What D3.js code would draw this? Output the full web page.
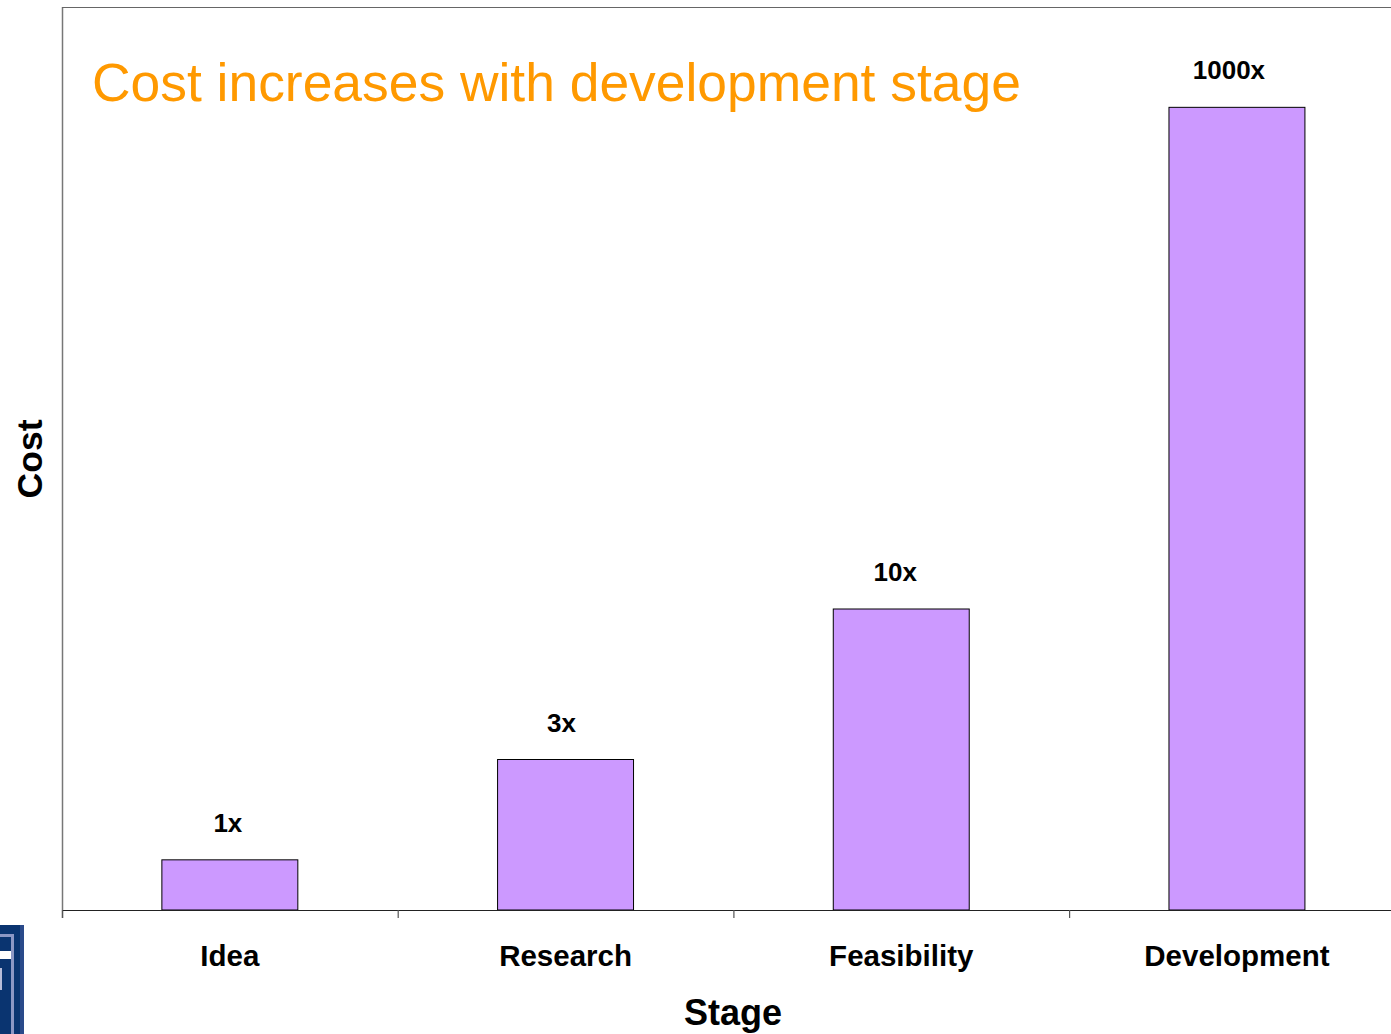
<!DOCTYPE html>
<html>
<head>
<meta charset="utf-8">
<script src="https://cdn.jsdelivr.net/npm/d3@7"></script>
<style>
  html, body { margin: 0; padding: 0; background: #fff; }
  svg { display: block; }
  text { font-family: "Liberation Sans", Arial, sans-serif; }
</style>
</head>
<body>
<svg id="chart" width="1391" height="1034"></svg>
<script>
// Stages and their relative cost multipliers
const stages = ["Idea", "Research", "Feasibility", "Development"];
const costs = [1, 3, 10, 1000];
const costLabels = ["1x", "3x", "10x", "1000x"];
// Cost multipliers and the bar height (in steps) each one is shown at;
// the axis is compressed so the largest multiplier stays on the page.
const costBreaks = [0, 1, 3, 10, 1000];
const stepBreaks = [0, 1, 3, 6, 16];
const stepMax = 18;

const W = 1391, H = 1034;
const margin = { left: 62, top: 7, bottom: 124 };
const baseY = H - margin.bottom;          // 910
const plotRight = margin.left + 4 * 335.7;

const svg = d3.select("#chart");

const x = d3.scaleBand()
  .domain(stages)
  .range([margin.left, plotRight])
  .paddingInner(0.595)
  .paddingOuter(0.2975);

const stepScale = d3.scaleLinear()
  .domain([0, stepMax])
  .range([baseY, margin.top]);

const y = d3.scaleLinear()
  .domain(costBreaks)
  .range(stepBreaks.map(s => stepScale(s)));

// Plot frame: left and top edges
svg.append("line")
  .attr("x1", margin.left + 0.5).attr("x2", margin.left + 0.5)
  .attr("y1", margin.top).attr("y2", baseY + 8)
  .attr("stroke", "#777").attr("stroke-width", 1.5);
svg.append("line")
  .attr("x1", margin.left).attr("x2", W)
  .attr("y1", margin.top + 0.5).attr("y2", margin.top + 0.5)
  .attr("stroke", "#666").attr("stroke-width", 1.2);

// Bars
svg.append("g").selectAll("rect")
  .data(stages)
  .join("rect")
  .attr("x", d => x(d))
  .attr("width", x.bandwidth())
  .attr("y", (d, i) => y(costs[i]))
  .attr("height", (d, i) => baseY - y(costs[i]))
  .attr("fill", "#CC99FF")
  .attr("stroke", "#000")
  .attr("stroke-width", 1);

// Category axis
const xAxis = d3.axisBottom(x).tickSize(0).tickFormat("");
const gx = svg.append("g")
  .attr("transform", `translate(0,${baseY})`)
  .call(xAxis);
gx.select(".domain").remove();
gx.append("line")
  .attr("x1", margin.left).attr("x2", W)
  .attr("y1", 0.5).attr("y2", 0.5)
  .attr("stroke", "#222").attr("stroke-width", 1.2);
// Dividing ticks between categories
const step = x.step();
gx.selectAll(".divtick")
  .data(d3.range(stages.length))
  .join("line")
  .attr("class", "divtick")
  .attr("x1", i => margin.left + i * step + 0.5)
  .attr("x2", i => margin.left + i * step + 0.5)
  .attr("y1", 0).attr("y2", 8)
  .attr("stroke", "#555").attr("stroke-width", 1.2);

// Category labels
svg.append("g").selectAll("text")
  .data(stages)
  .join("text")
  .attr("x", d => x(d) + x.bandwidth() / 2)
  .attr("y", baseY + 56)
  .attr("text-anchor", "middle")
  .attr("font-size", 29.5)
  .attr("font-weight", "bold")
  .attr("fill", "#000")
  .text(d => d);

// Value labels above bars
svg.append("g").selectAll("text")
  .data(stages)
  .join("text")
  .attr("x", (d, i) => x(d) + x.bandwidth() / 2 - 2 - i * 2)
  .attr("y", (d, i) => y(costs[i]) - 28)
  .attr("text-anchor", "middle")
  .attr("font-size", 26)
  .attr("font-weight", "bold")
  .attr("fill", "#000")
  .text((d, i) => costLabels[i]);

// Axis titles
svg.append("text")
  .attr("x", 733).attr("y", 1025)
  .attr("text-anchor", "middle")
  .attr("font-size", 36)
  .attr("font-weight", "bold")
  .text("Stage");

svg.append("text")
  .attr("transform", "translate(42,459) rotate(-90)")
  .attr("text-anchor", "middle")
  .attr("font-size", 35.5)
  .attr("font-weight", "bold")
  .text("Cost");

// Title
svg.append("text")
  .attr("x", 92).attr("y", 101)
  .attr("font-size", 53.4)
  .attr("fill", "#FF9900")
  .text("Cost increases with development stage");

// Corner emblem
const logo = svg.append("g");
logo.append("rect").attr("x", 0).attr("y", 925).attr("width", 24).attr("height", 109).attr("fill", "#0A3470");
logo.append("rect").attr("x", 11).attr("y", 934).attr("width", 3).attr("height", 100).attr("fill", "#8C97C4");
logo.append("rect").attr("x", 0).attr("y", 934).attr("width", 14).attr("height", 3).attr("fill", "#8C97C4");
logo.append("rect").attr("x", 0).attr("y", 951).attr("width", 11).attr("height", 8).attr("fill", "#fff");
logo.append("rect").attr("x", 0).attr("y", 968).attr("width", 2).attr("height", 22).attr("fill", "#B7BCD8");
logo.append("rect").attr("x", 20).attr("y", 925).attr("width", 4).attr("height", 109).attr("fill", "#2A4A8A");
</script>
</body>
</html>
